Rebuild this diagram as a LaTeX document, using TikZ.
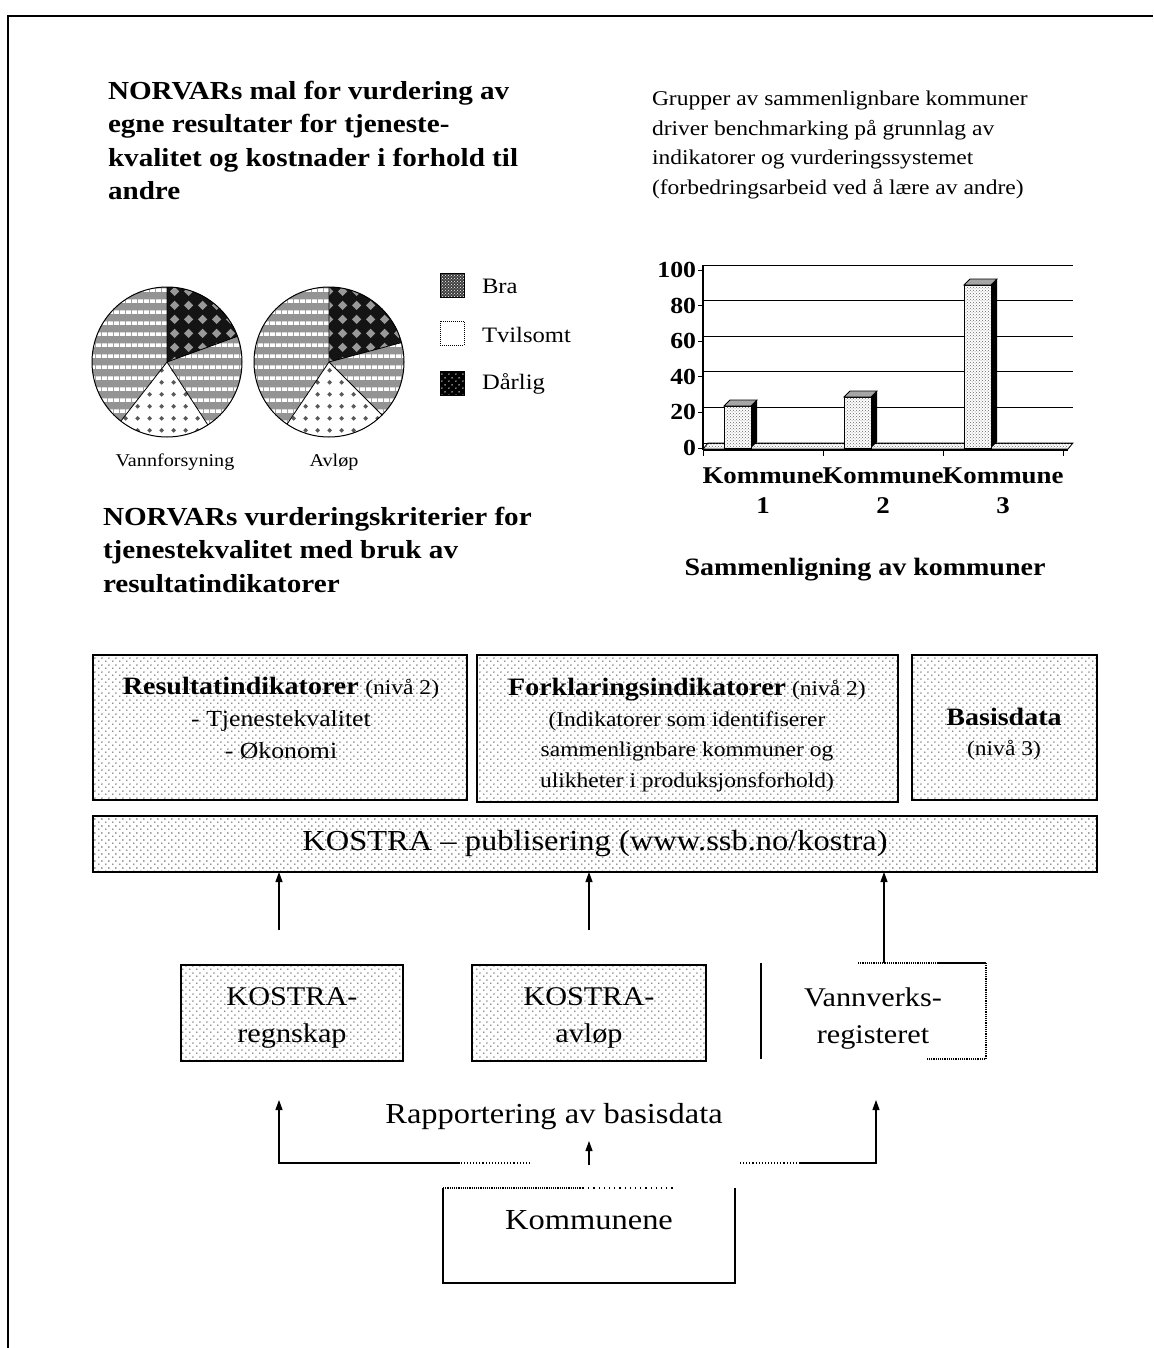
\documentclass[tikz,border=0pt]{standalone}
\usepackage{fontspec}
\setmainfont[FakeStretch=1.12]{Liberation Serif}
\usetikzlibrary{patterns,arrows.meta}

\pgfdeclarepatternformonly{sparsedots}{\pgfpointorigin}{\pgfqpoint{7pt}{7pt}}{\pgfqpoint{7pt}{7pt}}{%
 \pgfpathcircle{\pgfqpoint{1pt}{1pt}}{0.8pt}%
 \pgfpathcircle{\pgfqpoint{4.5pt}{4.5pt}}{0.8pt}%
 \pgfusepath{fill}}
\pgfdeclarepatternformonly{hstripes}{\pgfpointorigin}{\pgfqpoint{6pt}{11pt}}{\pgfqpoint{6pt}{11pt}}{%
 \pgfpathrectangle{\pgfpointorigin}{\pgfqpoint{6pt}{4pt}}%
 \pgfusepath{fill}}
\pgfdeclarepatternformonly{diamonds}{\pgfpointorigin}{\pgfqpoint{14pt}{14pt}}{\pgfqpoint{14pt}{14pt}}{%
 \pgfpathmoveto{\pgfqpoint{7pt}{2pt}}\pgfpathlineto{\pgfqpoint{12pt}{7pt}}%
 \pgfpathlineto{\pgfqpoint{7pt}{12pt}}\pgfpathlineto{\pgfqpoint{2pt}{7pt}}%
 \pgfpathclose\pgfusepath{fill}}
\pgfdeclarepatternformonly{smalldiam}{\pgfpointorigin}{\pgfqpoint{12pt}{12pt}}{\pgfqpoint{12pt}{12pt}}{%
 \pgfpathmoveto{\pgfqpoint{6pt}{3.5pt}}\pgfpathlineto{\pgfqpoint{8.5pt}{6pt}}%
 \pgfpathlineto{\pgfqpoint{6pt}{8.5pt}}\pgfpathlineto{\pgfqpoint{3.5pt}{6pt}}%
 \pgfpathclose\pgfusepath{fill}}

\newcommand\ftitle{\fontsize{26}{33.5}\selectfont\bfseries}
\newcommand\fpara{\fontsize{21}{29.5}\selectfont}
\newcommand\fpie{\fontsize{18}{22}\selectfont}
\newcommand\fleg{\fontsize{22}{26}\selectfont}
\newcommand\faxis{\fontsize{23}{26}\selectfont\bfseries}
\newcommand\fcat{\fontsize{24}{30}\selectfont\bfseries}
\newcommand\fsub{\fontsize{25}{30}\selectfont\bfseries}
\newcommand\fbig{\fontsize{29}{36}\selectfont}
\newcommand\fmid{\fontsize{27}{37}\selectfont}

\begin{document}
\begin{tikzpicture}[x=1pt,y=-1pt,
  every node/.style={inner sep=0pt, outer sep=0pt},
  shadebox/.style={draw=black, line width=1.3pt, pattern=sparsedots, pattern color=black!85},
  brafill/.style={preaction={fill=black!42}, pattern=hstripes, pattern color=white},
  darfill/.style={preaction={fill=black!92}, pattern=diamonds, pattern color=black!40},
  tvilfill/.style={preaction={fill=white}, pattern=smalldiam, pattern color=black!65},
  barfront/.style={preaction={fill=white}, pattern=crosshatch dots, pattern color=black!60},
  arr/.style={line width=1.1pt, -{Triangle[length=10pt,width=7pt]}},
  lnk/.style={line width=1.1pt}]
\useasboundingbox (0,0) rectangle (1153,1348);
\fill[white] (0,0) rectangle (1153,1348);

% frame
\draw[line width=1.5pt] (8,1348) -- (8,16) -- (1153,16);

% titles
\node[anchor=north west, align=left, font=\ftitle] (title1) at (108,81)
  {NORVARs mal for vurdering av\\egne resultater for tjeneste-\\kvalitet og kostnader i forhold til\\andre};
\node[anchor=north west, align=left, font=\fpara] (para1) at (652,91)
  {Grupper av sammenlignbare kommuner\\driver benchmarking på grunnlag av\\indikatorer og vurderingssystemet\\(forbedringsarbeid ved å lære av andre)};
\node[anchor=north west, align=left, font=\ftitle] (title2) at (103,507)
  {NORVARs vurderingskriterier for\\tjenestekvalitet med bruk av\\resultatindikatorer};

% pies
\begin{scope}[shift={(167,362)},yscale=-1]
 \path[brafill] (0,0) circle[radius=75];
 \path[darfill] (0,0) -- (20:75) arc[start angle=20,end angle=90,radius=75] -- cycle;
 \path[tvilfill] (0,0) -- (232:75) arc[start angle=232,end angle=303,radius=75] -- cycle;
 \draw[line width=1pt] (0,0) circle[radius=75];
 \draw[line width=0.8pt] (20:75) -- (0,0) -- (90:75) (232:75) -- (0,0) -- (303:75);
\end{scope}
\begin{scope}[shift={(329,362)},yscale=-1]
 \path[brafill] (0,0) circle[radius=75];
 \path[darfill] (0,0) -- (15:75) arc[start angle=15,end angle=90,radius=75] -- cycle;
 \path[tvilfill] (0,0) -- (236:75) arc[start angle=236,end angle=315,radius=75] -- cycle;
 \draw[line width=1pt] (0,0) circle[radius=75];
 \draw[line width=0.8pt] (15:75) -- (0,0) -- (90:75) (236:75) -- (0,0) -- (315:75);
\end{scope}
\node[font=\fpie] (vannlbl) at (175,462) {Vannforsyning};
\node[font=\fpie] (avllbl) at (334,462) {Avløp};

% legend
\node[draw=black, line width=1pt, minimum size=24pt, preaction={fill=black!75}, pattern=crosshatch dots, pattern color=white] (legbra) at (452,285) {};
\node[draw=black, line width=1pt, densely dotted, minimum size=24pt, fill=white] (legtvil) at (452,333) {};
\node[draw=black, line width=1pt, minimum size=24pt, preaction={fill=black}, pattern=sparsedots, pattern color=white] (legdar) at (452,383) {};
\node[anchor=base west, font=\fleg] (legbratxt) at (482,293) {Bra};
\node[anchor=base west, font=\fleg] (legtviltxt) at (482,342) {Tvilsomt};
\node[anchor=base west, font=\fleg] (legdartxt) at (482,389) {Dårlig};

% bar chart
\foreach \v in {0,20,40,60,80,100}{
  \draw[line width=1pt] (703,{443-1.78*\v}) -- (1073,{443-1.78*\v});
  \draw[line width=1pt] (698,{448-1.78*\v}) -- (703,{448-1.78*\v});
  \node[anchor=east, font=\faxis] (ylab\v) at (696,{448-1.78*\v}) {\v};
}
\draw[line width=1.2pt] (703,265) -- (703,450);
\path[pattern=crosshatch dots, pattern color=black!60, draw=black, line width=0.8pt] (703,449) -- (708,443) -- (1073,443) -- (1068,449) -- cycle;
\draw[line width=1.2pt] (703,450) -- (1068,450);
\foreach \tx in {703,823,943,1063}{ \draw[line width=1pt] (\tx,450) -- (\tx,456); }
\foreach \bx/\bt in {724/406, 844/397, 964/285}{
  \path[barfront, draw=black, line width=0.8pt] (\bx,\bt) rectangle (\bx+27,448);
  \fill[black] (\bx+27,\bt) -- (\bx+33,\bt-6) -- (\bx+33,442) -- (\bx+27,448) -- cycle;
  \path[fill=black!35, draw=black, line width=0.8pt] (\bx,\bt) -- (\bx+6,\bt-6) -- (\bx+33,\bt-6) -- (\bx+27,\bt) -- cycle;
}
\node[font=\fcat] (cat1) at (763,476) {Kommune};
\node[font=\fcat] (cat2) at (883,476) {Kommune};
\node[font=\fcat] (cat3) at (1003,476) {Kommune};
\node[font=\fcat] (num1) at (763,506) {1};
\node[font=\fcat] (num2) at (883,506) {2};
\node[font=\fcat] (num3) at (1003,506) {3};
\node[font=\fsub] (subt) at (865,570) {Sammenligning av kommuner};

% indicator boxes
\node[shadebox, minimum width=374pt, minimum height=145pt] (resbox) at (280,727.5) {};
\node[anchor=north, align=center, font=\fontsize{23}{32}\selectfont] (restxt) at (281,677)
  {{\bfseries\fontsize{25}{32}\selectfont Resultatindikatorer} {\fontsize{21}{32}\selectfont (nivå 2)}\\- Tjenestekvalitet\\- Økonomi};
\node[shadebox, minimum width=421pt, minimum height=147pt] (forbox) at (687.5,728.5) {};
\node[anchor=north, align=center, font=\fontsize{21}{30.7}\selectfont] (fortxt) at (687,678)
  {{\bfseries\fontsize{25}{30.7}\selectfont Forklaringsindikatorer} (nivå 2)\\(Indikatorer som identifiserer\\sammenlignbare kommuner og\\ulikheter i produksjonsforhold)};
\node[shadebox, minimum width=185pt, minimum height=145pt] (basbox) at (1004.5,727.5) {};
\node[anchor=north, align=center, font=\fontsize{21}{30}\selectfont] (bastxt) at (1004,708)
  {{\bfseries\fontsize{25}{30}\selectfont Basisdata}\\(nivå 3)};
\node[shadebox, minimum width=1004pt, minimum height=56pt, font=\fbig] (pub) at (595,844)
  {KOSTRA – publisering (www.ssb.no/kostra)};

% source boxes
\node[shadebox, minimum width=222pt, minimum height=96pt] (regn) at (292,1013) {};
\node[anchor=north, align=center, font=\fmid] (regntxt) at (292,988) {KOSTRA-\\regnskap};
\node[shadebox, minimum width=234pt, minimum height=96pt] (avl) at (589,1013) {};
\node[anchor=north, align=center, font=\fmid] (avltxt) at (589,988) {KOSTRA-\\avløp};
\node[minimum width=225pt, minimum height=96pt] (vann) at (873.5,1011) {};
\node[anchor=north, align=center, font=\fmid] (vanntxt) at (873,988) {Vannverks-\\registeret};
\draw[line width=1.2pt] (vann.north west) -- (vann.south west);
\draw[line width=1.2pt, densely dotted] ([xshift=97pt]vann.north west) -- ([xshift=176pt]vann.north west);
\draw[line width=1.2pt] ([xshift=176pt]vann.north west) -- (vann.north east);
\draw[line width=1.2pt, densely dotted] (vann.north east) -- (vann.south east) -- ([xshift=166pt]vann.south west);

% arrows to publisering
\coordinate (a1s) at (279,930);
\coordinate (a2s) at (589,930);
\coordinate (a3s) at ([xshift=10.5pt]vann.north);
\draw[arr] (a1s) -- (a1s |- pub.south);
\draw[arr] (a2s) -- (a2s |- pub.south);
\draw[arr] (a3s) -- (a3s |- pub.south);

% reporting
\node[font=\fbig] (rapp) at (554,1117) {Rapportering av basisdata};
\node[minimum width=292pt, minimum height=95pt] (komm) at (589,1235.5) {};
\node[font=\fbig] (kommtxt) at (589,1220) {Kommunene};
\draw[line width=1.2pt] (komm.north west) -- (komm.south west) -- (komm.south east) -- (komm.north east);
\draw[line width=1.2pt, densely dotted] (komm.north west) -- ([xshift=140pt]komm.north west);
\draw[line width=1.2pt, loosely dotted] ([xshift=140pt]komm.north west) -- ([xshift=230pt]komm.north west);

\coordinate (busL) at (279,1163);
\coordinate (busR) at (876,1163);
\coordinate (busLm) at (460,1163);
\coordinate (busLe) at (530,1163);
\coordinate (busRs) at (740,1163);
\coordinate (busRm) at (800,1163);
\coordinate (tipL) at (279,1100);
\coordinate (tipR) at (876,1100);
\coordinate (midS) at (589,1165);
\coordinate (midT) at (589,1141);
\draw[lnk, dotted] (busLe) -- (busLm);
\draw[arr] (busLm) -- (busL) -- (tipL);
\draw[lnk, dotted] (busRs) -- (busRm);
\draw[arr] (busRm) -- (busR) -- (tipR);
\draw[arr] (midS) -- (midT);
\end{tikzpicture}
\end{document}
